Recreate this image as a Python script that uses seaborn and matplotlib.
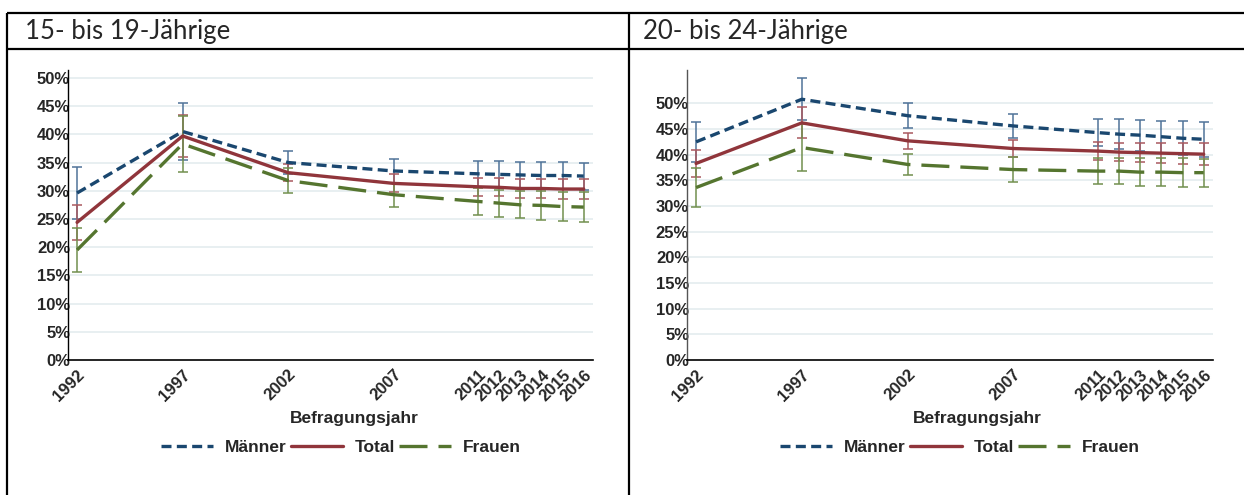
import numpy as np
import pandas as pd
import matplotlib
matplotlib.use("Agg")
import matplotlib.pyplot as plt
from matplotlib.lines import Line2D
import seaborn as sns

# ---------------- data ----------------
years = [1992, 1997, 2002, 2007, 2011, 2012, 2013, 2014, 2015, 2016]
groups = ["Männer", "Total", "Frauen"]
panel_titles = ["15- bis 19-Jährige", "20- bis 24-Jährige"]

m_15 = [29.6, 40.5, 35.0, 33.5, 33.0, 32.9, 32.8, 32.7, 32.7, 32.6]
m_15_err = [4.6, 5.0, 2.1, 2.2, 2.3, 2.3, 2.3, 2.4, 2.4, 2.4]
t_15 = [24.4, 39.7, 33.2, 31.3, 30.7, 30.6, 30.4, 30.4, 30.3, 30.3]
t_15_err = [3.1, 3.7, 1.5, 1.6, 1.6, 1.6, 1.7, 1.7, 1.7, 1.7]
f_15 = [19.5, 38.3, 31.8, 29.3, 28.1, 27.8, 27.5, 27.4, 27.2, 27.1]
f_15_err = [3.9, 5.0, 2.2, 2.1, 2.4, 2.4, 2.4, 2.6, 2.6, 2.7]

m_20 = [42.5, 50.8, 47.6, 45.6, 44.3, 44.0, 43.8, 43.5, 43.2, 43.0]
m_20_err = [3.9, 4.1, 2.4, 2.3, 2.7, 2.9, 3.0, 3.1, 3.3, 3.4]
t_20 = [38.3, 46.2, 42.7, 41.2, 40.7, 40.5, 40.4, 40.3, 40.2, 40.1]
t_20_err = [2.7, 3.0, 1.5, 1.6, 1.7, 1.8, 1.8, 1.9, 2.0, 2.1]
f_20 = [33.6, 41.4, 38.1, 37.1, 36.8, 36.8, 36.6, 36.6, 36.5, 36.5]
f_20_err = [3.8, 4.5, 2.0, 2.4, 2.6, 2.6, 2.7, 2.7, 2.8, 2.7]

y_ticks = [0, 5, 10, 15, 20, 25, 30, 35, 40, 45, 50]
y_ticklabels = ["0%", "5%", "10%", "15%", "20%", "25%", "30%", "35%", "40%", "45%", "50%"]
x_label = "Befragungsjahr"

# ---------------- style ----------------
sns.set_style("white")
plt.rcParams["font.family"] = ["Liberation Sans", "DejaVu Sans"]

line_colors = {"Männer": "#1a476f", "Total": "#90353b", "Frauen": "#55752f"}
err_colors = {"Männer": "#4f7399", "Total": "#a9595f", "Frauen": "#718f4e"}
dashes = {"Männer": (3.0, 1.6), "Total": "", "Frauen": (8.4, 3.3)}
LW = 2.4

fig = plt.figure(figsize=(12.44, 4.95), dpi=100)

W, H = 1244.0, 495.0
def fx(px): return px / W
def fy(py): return 1 - py / H

panels = [
    dict(vals=[m_15, t_15, f_15], errs=[m_15_err, t_15_err, f_15_err],
         ax_px=(68, 70, 593, 360), ytop=51.4, title_x=25, spine="#000000",
         xlabel_cx=354, legend_cx=341),
    dict(vals=[m_20, t_20, f_20], errs=[m_20_err, t_20_err, f_20_err],
         ax_px=(687, 70, 1213, 360), ytop=56.5, title_x=643, spine="#555555",
         xlabel_cx=977, legend_cx=960),
]

for i, p in enumerate(panels):
    l, t, r, b = p["ax_px"]
    ax = fig.add_axes([fx(l), fy(b), fx(r) - fx(l), fy(t) - fy(b)])
    rows = []
    for g, v in zip(groups, p["vals"]):
        for yr, val in zip(years, v):
            rows.append({"year": yr, "value": val, "group": g})
    df = pd.DataFrame(rows)

    for y in y_ticks[1:]:
        ax.axhline(y, color="#e6eef0", lw=1.3, zorder=0)

    for g, v, e in zip(groups, p["vals"], p["errs"]):
        ax.errorbar(years, v, yerr=e, fmt="none", ecolor=err_colors[g],
                    elinewidth=1.1, capsize=3.5, capthick=1.1, zorder=2)

    sns.lineplot(data=df, x="year", y="value", hue="group", style="group",
                 hue_order=groups, style_order=groups, palette=line_colors,
                 dashes=dashes, linewidth=LW, legend=False, ax=ax, zorder=3)

    ax.set_xlim(1991.57, 2016.44)
    ax.set_ylim(0, p["ytop"])
    ax.set_yticks(y_ticks)
    ax.set_yticklabels(y_ticklabels, fontsize=12, fontweight="bold")
    ax.set_xticks(years)
    ax.set_xticklabels([str(y) for y in years], fontsize=12, fontweight="bold",
                       rotation=45, ha="right", va="top", rotation_mode="anchor")
    ax.tick_params(axis="y", length=0, pad=-1.5)
    ax.tick_params(axis="x", length=4, width=1, color="#000000", pad=1, direction="out")
    ax.set_xlabel("")
    ax.set_ylabel("")
    for s in ["top", "right"]:
        ax.spines[s].set_visible(False)
    ax.spines["left"].set_color(p["spine"])
    ax.spines["left"].set_linewidth(1.0)
    ax.spines["bottom"].set_color("#000000")
    ax.spines["bottom"].set_linewidth(1.2)
    ax.grid(False)

    fig.text(fx(p["xlabel_cx"]), fy(419), x_label, ha="center", va="center",
             fontsize=12.5, fontweight="bold")

    handles = []
    for g in groups:
        h = Line2D([], [], color=line_colors[g], lw=LW, linestyle="-")
        if dashes[g]:
            h.set_dashes(dashes[g])
        handles.append(h)
    fig.legend(handles, groups, loc="center", bbox_to_anchor=(fx(p["legend_cx"]), fy(447)),
               ncol=3, frameon=False, handlelength=3.0, handletextpad=0.7,
               columnspacing=0.2, prop={"weight": "bold", "size": 12.5})

    fig.text(fx(p["title_x"]), fy(31), panel_titles[i], ha="left", va="center",
             fontsize=18.5, family=["Lato", "DejaVu Sans"])

# table borders
border_kw = dict(color="black", lw=1.6, transform=fig.transFigure, solid_capstyle="butt")
fig.add_artist(Line2D([fx(7), 1], [fy(12.5), fy(12.5)], **border_kw))
fig.add_artist(Line2D([fx(7), 1], [fy(49), fy(49)], **border_kw))
fig.add_artist(Line2D([fx(7.5), fx(7.5)], [fy(12.5), 0], **border_kw))
fig.add_artist(Line2D([fx(628.5), fx(628.5)], [fy(12.5), 0], **border_kw))

fig.savefig("out.png", dpi=100)
